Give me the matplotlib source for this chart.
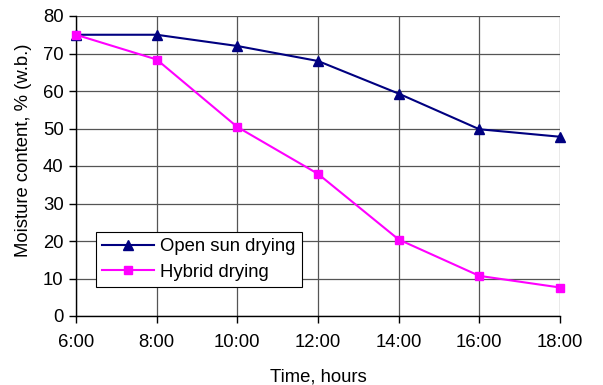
import matplotlib
matplotlib.use("Agg")
import matplotlib.pyplot as plt

plt.rcParams['font.family'] = ['Liberation Sans', 'DejaVu Sans']

times = ["6:00", "8:00", "10:00", "12:00", "14:00", "16:00", "18:00"]
open_sun = [75, 75, 72, 68, 59.3, 49.8, 47.8]
hybrid = [75, 68.4, 50.4, 37.9, 20.4, 10.7, 7.6]

FS = 13.3

fig = plt.figure(figsize=(6.03, 3.85), dpi=100)
ax = fig.add_axes([76/603, 1-316/385, (560-76)/603, (316-16)/385])

x = list(range(len(times)))
ax.plot(x, open_sun, color='#000080', marker='^', markersize=7, linewidth=1.5,
        label='Open sun drying', clip_on=False, zorder=3)
ax.plot(x, hybrid, color='#FF00FF', marker='s', markersize=6, linewidth=1.5,
        label='Hybrid drying', clip_on=False, zorder=3)

ax.set_xlim(0, len(times)-1)
ax.set_ylim(0, 80)
ax.set_xticks(x)
ax.set_xticklabels(times)
ax.set_yticks(range(0, 81, 10))
ax.grid(True, color='#555555', linewidth=0.9)
ax.set_axisbelow(True)
for s in ['top', 'right']:
    ax.spines[s].set_visible(False)
for s in ['left', 'bottom']:
    ax.spines[s].set_color('black')
    ax.spines[s].set_linewidth(1.0)
ax.tick_params(axis='both', labelsize=FS, direction='out', length=5, width=1)
ax.tick_params(axis='y', pad=4)
ax.tick_params(axis='x', pad=8)

ax.set_xlabel('Time, hours', fontsize=FS)
ax.xaxis.set_label_coords(0.5, (316-369)/300)
ax.set_ylabel('Moisture content, % (w.b.)', fontsize=FS)
ax.yaxis.set_label_coords((32-76)/484, (316-150)/300)

leg = ax.legend(loc='lower left', bbox_to_anchor=((96-76)/484, (316-287)/300),
                borderaxespad=0, fontsize=FS,
                frameon=True, fancybox=False, edgecolor='black', framealpha=1,
                handlelength=2.8, borderpad=0.35, labelspacing=0.45, handletextpad=0.3)
leg.get_frame().set_linewidth(0.8)

fig.savefig('out.png', dpi=100)
